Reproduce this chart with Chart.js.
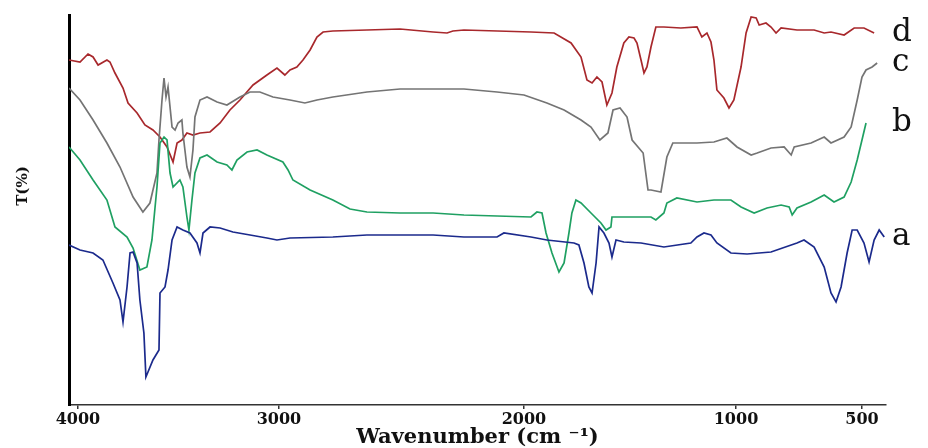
<!DOCTYPE html>
<html>
<head>
<meta charset="utf-8">
<script src="https://cdn.jsdelivr.net/npm/chart.js@4.4.1/dist/chart.umd.min.js"></script>
<style>
  html, body { margin: 0; padding: 0; background: #fff; }
  canvas { display: block; }
</style>
</head>
<body>
<canvas id="chartFtir" width="928" height="448"></canvas>
<script>
// FTIR spectra, wavenumber (cm-1) against transmittance (stacked, arbitrary offset)
const SERIES_LABELS = ["a", "b", "c", "d"];
const X_TICKS = [4000, 3000, 2000, 1000, 500];

const A_WN = [4045, 3990, 3925, 3876, 3826, 3791, 3776, 3756, 3741, 3726, 3706, 3692, 3672, 3662, 3627, 3597, 3592, 3567, 3552, 3532,
    3507, 3478, 3443, 3408, 3393, 3378, 3343, 3293, 3229, 3144, 3060, 3010, 2955, 2780, 2641, 2371, 2245, 2110, 2082, 1967,
    1892, 1764, 1741, 1717, 1694, 1679, 1660, 1646, 1623, 1599, 1585, 1566, 1529, 1448, 1340, 1213, 1184, 1151, 1118, 1090,
    1024, 956, 861, 758, 730, 690, 650, 623, 603, 583, 559, 539, 519, 492, 472, 452, 432, 412];
const A_T = [160, 155, 152, 145, 122, 105, 83, 118, 152, 153, 142, 105, 72, 28, 45, 55, 112, 118, 135, 165,
    178, 175, 172, 162, 152, 172, 178, 177, 173, 170, 167, 165, 167, 168, 170, 170, 168, 168, 172, 168,
    165, 162, 160, 142, 118, 112, 142, 178, 172, 162, 148, 165, 163, 162, 158, 162, 168, 172, 170, 162,
    152, 151, 153, 162, 165, 158, 138, 112, 103, 118, 152, 175, 175, 162, 143, 165, 175, 168];

const B_WN = [4045, 3990, 3925, 3856, 3816, 3756, 3726, 3692, 3657, 3632, 3607, 3592, 3572, 3557, 3542, 3527, 3493, 3478, 3458, 3448,
    3433, 3418, 3393, 3358, 3308, 3259, 3234, 3209, 3159, 3109, 3060, 2984, 2963, 2943, 2873, 2780, 2710, 2641, 2506, 2371,
    2245, 2110, 1967, 1939, 1915, 1896, 1868, 1835, 1811, 1788, 1774, 1755, 1731, 1684, 1637, 1613, 1590, 1585, 1495, 1401,
    1378, 1340, 1326, 1279, 1184, 1104, 1024, 980, 928, 877, 821, 789, 777, 758, 702, 650, 611, 571, 543, 519, 500, 484];
const B_T = [258, 245, 225, 205, 178, 168, 157, 135, 138, 165, 218, 262, 268, 265, 232, 218, 225, 218, 188, 175,
    205, 232, 247, 250, 243, 240, 235, 245, 253, 255, 250, 243, 235, 225, 215, 205, 196, 193, 192, 192,
    190, 189, 188, 193, 192, 172, 152, 133, 142, 172, 192, 205, 202, 192, 182, 175, 178, 188, 188, 188,
    185, 192, 202, 207, 203, 205, 205, 198, 192, 197, 200, 198, 190, 197, 203, 210, 203, 208, 223, 245, 265, 282];

const C_WN = [4045, 3990, 3925, 3856, 3791, 3726, 3677, 3642, 3607, 3597, 3582, 3572, 3562, 3552, 3532, 3517, 3502, 3483, 3478, 3458,
    3443, 3428, 3418, 3393, 3358, 3308, 3259, 3194, 3144, 3095, 3030, 2955, 2894, 2845, 2780, 2641, 2506, 2371, 2245, 2110,
    2000, 1892, 1811, 1731, 1684, 1642, 1604, 1580, 1547, 1514, 1490, 1438, 1415, 1401, 1354, 1326, 1298, 1279,
    1184, 1104, 1043, 996, 940, 916, 861, 809, 781, 769, 702, 650, 623, 571, 543, 519, 500, 484, 460, 440];
const C_T = [317, 305, 285, 262, 238, 208, 193, 202, 232, 265, 305, 327, 308, 318, 278, 275, 282, 285, 272, 238,
    228, 255, 288, 305, 308, 303, 300, 308, 313, 313, 308, 305, 302, 305, 308, 313, 316, 316, 316, 313,
    310, 302, 295, 285, 278, 265, 272, 295, 297, 288, 265, 252, 215, 215, 213, 248, 262, 262,
    262, 263, 267, 258, 250, 252, 257, 258, 250, 258, 262, 268, 262, 268, 278, 305, 328, 335, 338, 342];

const D_WN = [4045, 3990, 3950, 3925, 3900, 3856, 3841, 3816, 3776, 3751, 3706, 3667, 3627, 3592, 3557, 3527, 3507, 3483, 3458, 3428,
    3393, 3343, 3293, 3244, 3194, 3129, 3060, 3010, 2976, 2955, 2927, 2902, 2873, 2845, 2820, 2780, 2641, 2506, 2371, 2314,
    2290, 2245, 1967, 1858, 1778, 1731, 1703, 1679, 1656, 1632, 1609, 1585, 1562, 1529, 1505, 1481, 1467, 1448, 1434, 1420,
    1401, 1378, 1340, 1260, 1184, 1161, 1137, 1118, 1104, 1090, 1057, 1033, 1010, 980, 960, 940, 920, 908, 881, 861,
    841, 821, 758, 690, 650, 623, 571, 531, 492, 452];
const D_T = [345, 343, 351, 348, 340, 345, 343, 332, 317, 302, 292, 280, 275, 268, 258, 243, 262, 265, 272, 270,
    272, 273, 282, 295, 305, 320, 330, 337, 330, 335, 338, 345, 355, 368, 373, 374, 375, 376, 373, 372,
    374, 375, 373, 372, 362, 348, 325, 322, 328, 323, 300, 312, 338, 362, 368, 367, 362, 345, 332, 338,
    358, 378, 378, 377, 378, 368, 372, 363, 345, 315, 307, 297, 305, 338, 372, 388, 387, 380, 382, 378,
    372, 377, 375, 375, 372, 373, 370, 377, 377, 372];

const SERIES_COLORS = ["#1b2a8c", "#1fa062", "#747474", "#a8282c"];

// the printed wavenumber axis is not evenly spaced: piecewise-linear scale
class WarpedScale extends Chart.LinearScale {
    toDecimal(value) {
        const k = this.options.knots;
        for (let i = 0; i < k.length - 1; i++) {
            const [v0, d0] = k[i], [v1, d1] = k[i + 1];
            if (value <= v0 && value >= v1 || i === k.length - 2) {
                return d0 + (value - v0) / (v1 - v0) * (d1 - d0);
            }
        }
        return 0;
    }
    fromDecimal(dec) {
        const k = this.options.knots;
        for (let i = 0; i < k.length - 1; i++) {
            const [v0, d0] = k[i], [v1, d1] = k[i + 1];
            if (dec >= d0 && dec <= d1 || i === k.length - 2) {
                return v0 + (dec - d0) / (d1 - d0) * (v1 - v0);
            }
        }
        return 0;
    }
    getPixelForValue(value) {
        return value === null ? NaN : this.getPixelForDecimal(this.toDecimal(value));
    }
    getValueForPixel(pixel) {
        return this.fromDecimal(this.getDecimalForPixel(pixel));
    }
}
WarpedScale.id = "warped";
WarpedScale.defaults = {};
Chart.register(WarpedScale);

const seriesEndLabels = {
    id: "seriesEndLabels",
    afterDatasetsDraw(chart) {
        const { ctx, chartArea } = chart;
        ctx.save();
        ctx.font = "31px 'DejaVu Serif'";
        ctx.fillStyle = "#111";
        ctx.textAlign = "left";
        ctx.textBaseline = "alphabetic";
        chart.data.datasets.forEach((ds, i) => {
            const pts = chart.getDatasetMeta(i).data;
            const last = pts[pts.length - 1];
            ctx.fillText(ds.label, chartArea.right + 6, last.y + 8);
        });
        // vertical axis title
        ctx.font = "bold 15px 'DejaVu Serif'";
        ctx.textAlign = "center";
        ctx.textBaseline = "middle";
        ctx.translate(23, 186);
        ctx.rotate(-Math.PI / 2);
        ctx.fillText("T(%)", 0, 0);
        ctx.restore();
    }
};

function toPoints(xs, ys) {
    return xs.map((x, i) => ({ x: x, y: ys[i] }));
}

function createFtirChart() {
    const data = {
        datasets: [
            { label: SERIES_LABELS[0], data: toPoints(A_WN, A_T), borderColor: SERIES_COLORS[0] },
            { label: SERIES_LABELS[1], data: toPoints(B_WN, B_T), borderColor: SERIES_COLORS[1] },
            { label: SERIES_LABELS[2], data: toPoints(C_WN, C_T), borderColor: SERIES_COLORS[2] },
            { label: SERIES_LABELS[3], data: toPoints(D_WN, D_T), borderColor: SERIES_COLORS[3] },
        ]
    };

    const config = {
        type: "line",
        data: data,
        options: {
            responsive: false,
            animation: false,
            layout: { padding: { top: 15, right: 42, left: 0, bottom: 0 } },
            elements: {
                line: { borderWidth: 1.7, tension: 0, fill: false },
                point: { radius: 0 }
            },
            plugins: {
                legend: { display: false },
                tooltip: { enabled: false },
            },
            scales: {
                x: {
                    type: "warped",
                    min: 405,
                    max: 4045,
                    knots: [[4045, 0], [4000, 0.011], [3000, 0.257], [2000, 0.5569], [1000, 0.8164], [500, 0.9706], [405, 1]],
                    afterBuildTicks: (scale) => {
                        scale.ticks = X_TICKS.map(v => ({ value: v }));
                    },
                    afterFit: (scale) => { scale.height = 43; },
                    grid: {
                        display: true,
                        drawOnChartArea: false,
                        drawTicks: true,
                        tickLength: 4,
                        color: "#333",
                        lineWidth: 1.5
                    },
                    border: { display: true, color: "#333", width: 1.5 },
                    ticks: {
                        autoSkip: false,
                        maxRotation: 0,
                        padding: 1,
                        color: "#111",
                        font: { family: "'DejaVu Serif'", size: 16, weight: "bold" },
                        callback: (v) => String(v)
                    },
                    title: {
                        display: true,
                        text: "Wavenumber (cm ⁻¹)",
                        color: "#111",
                        padding: { top: 0, bottom: 0 },
                        font: { family: "'DejaVu Serif'", size: 21, weight: "bold", lineHeight: 1 }
                    }
                },
                y: {
                    min: 0,
                    max: 390,
                    afterFit: (scale) => { scale.width = 69; },
                    grid: { display: false },
                    border: { display: true, color: "#000", width: 3 },
                    ticks: { display: false }
                }
            }
        },
        plugins: [seriesEndLabels]
    };

    return new Chart(document.getElementById("chartFtir"), config);
}

const chartFtir = createFtirChart();
</script>
</body>
</html>
